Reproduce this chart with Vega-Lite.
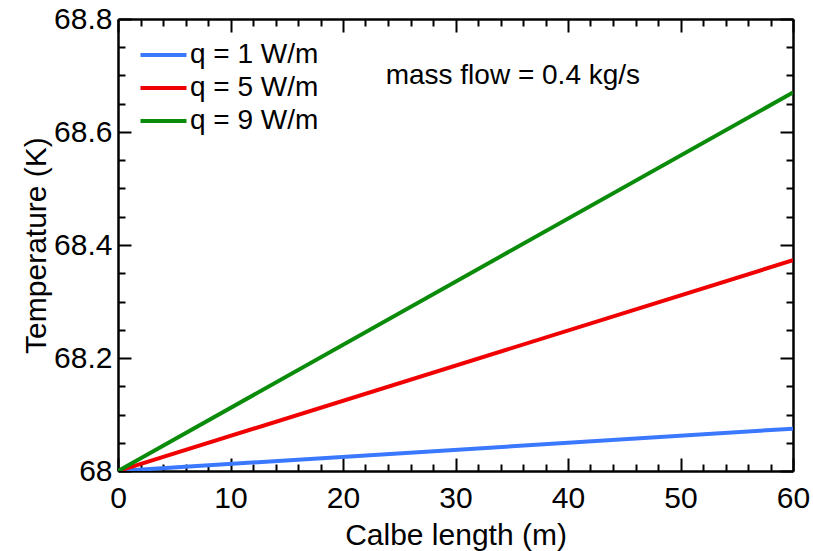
{
  "$schema": "https://vega.github.io/schema/vega-lite/v6.json",
  "width": 675,
  "height": 452,
  "autosize": {"type": "none"},
  "padding": {"left": 118, "top": 19, "right": 20, "bottom": 80},
  "background": "white",
  "config": {
    "font": "Liberation Sans",
    "view": {"stroke": null},
    "axis": {
      "domainColor": "black",
      "domainWidth": 2.5,
      "tickColor": "black",
      "tickWidth": 2,
      "labelColor": "black",
      "titleColor": "black",
      "labelFontSize": 30,
      "titleFontSize": 30,
      "titleFontWeight": "normal",
      "grid": false
    }
  },
  "data": {
    "values": [
      {"length": 0, "temp": 68.0, "series": "q = 1 W/m"},
      {"length": 60, "temp": 68.075, "series": "q = 1 W/m"},
      {"length": 0, "temp": 68.0, "series": "q = 5 W/m"},
      {"length": 60, "temp": 68.373, "series": "q = 5 W/m"},
      {"length": 0, "temp": 68.0, "series": "q = 9 W/m"},
      {"length": 60, "temp": 68.67, "series": "q = 9 W/m"}
    ]
  },
  "layer": [
    {
      "mark": {"type": "line", "strokeWidth": 4, "clip": true},
      "encoding": {
        "x": {
          "field": "length", "type": "quantitative",
          "scale": {"domain": [0, 60], "nice": false},
          "axis": {
            "orient": "bottom",
            "title": "Calbe length (m)",
            "values": [0,2,4,6,8,10,12,14,16,18,20,22,24,26,28,30,32,34,36,38,40,42,44,46,48,50,52,54,56,58,60],
            "labelExpr": "datum.value % 10 === 0 ? datum.label : ''",
            "tickSize": {"condition": {"test": "datum.value % 10 === 0", "value": -13}, "value": -7},
            "labelPadding": 25,
            "labelFlush": false,
            "labelOverlap": false,
            "titlePadding": 1
          }
        },
        "y": {
          "field": "temp", "type": "quantitative",
          "scale": {"domain": [68, 68.8], "nice": false, "zero": false},
          "axis": {
            "orient": "left",
            "title": "Temperature (K)",
            "values": [68,68.05,68.1,68.15,68.2,68.25,68.3,68.35,68.4,68.45,68.5,68.55,68.6,68.65,68.7,68.75,68.8],
            "labelExpr": "abs(datum.value*5 - round(datum.value*5)) < 0.001 ? format(datum.value, '~g') : ''",
            "tickSize": {"condition": {"test": "abs(datum.value*5 - round(datum.value*5)) < 0.001", "value": -13}, "value": -7},
            "labelPadding": 19,
            "labelFlush": false,
            "labelOverlap": false,
            "titlePadding": 2
          }
        },
        "color": {
          "field": "series", "type": "nominal",
          "scale": {"domain": ["q = 1 W/m", "q = 5 W/m", "q = 9 W/m"], "range": ["#3a78ff", "#f00000", "#0a8c0a"]},
          "legend": {
            "orient": "none",
            "legendX": 31.5,
            "legendY": 22,
            "title": null,
            "symbolType": "M-2,0H2",
            "symbolSize": 529,
            "symbolStrokeWidth": 4,
            "labelFontSize": 28,
            "labelColor": "black",
            "labelOffset": 12.5,
            "rowPadding": 5
          }
        }
      }
    },
    {
      "mark": {"type": "line", "strokeOpacity": 0},
      "encoding": {
        "x": {
          "field": "length", "type": "quantitative",
          "scale": {"domain": [0, 60], "nice": false},
          "axis": {
            "orient": "top",
            "title": null,
            "values": [0,2,4,6,8,10,12,14,16,18,20,22,24,26,28,30,32,34,36,38,40,42,44,46,48,50,52,54,56,58,60],
            "labels": false,
            "tickSize": {"condition": {"test": "datum.value % 10 === 0", "value": -13}, "value": -7}
          }
        },
        "y": {
          "field": "temp", "type": "quantitative",
          "scale": {"domain": [68, 68.8], "nice": false, "zero": false},
          "axis": {
            "orient": "right",
            "title": null,
            "values": [68,68.05,68.1,68.15,68.2,68.25,68.3,68.35,68.4,68.45,68.5,68.55,68.6,68.65,68.7,68.75,68.8],
            "labels": false,
            "tickSize": {"condition": {"test": "abs(datum.value*5 - round(datum.value*5)) < 0.001", "value": -13}, "value": -7}
          }
        }
      }
    },
    {
      "data": {"values": [{"note": "mass flow = 0.4 kg/s"}]},
      "mark": {"type": "text", "fontSize": 28, "font": "Liberation Sans", "color": "black", "align": "center", "baseline": "middle"},
      "encoding": {
        "x": {"datum": 35.1, "type": "quantitative", "axis": null},
        "y": {"datum": 68.7, "type": "quantitative", "axis": null},
        "text": {"field": "note"}
      }
    }
  ],
  "resolve": {"axis": {"x": "independent", "y": "independent"}}
}
